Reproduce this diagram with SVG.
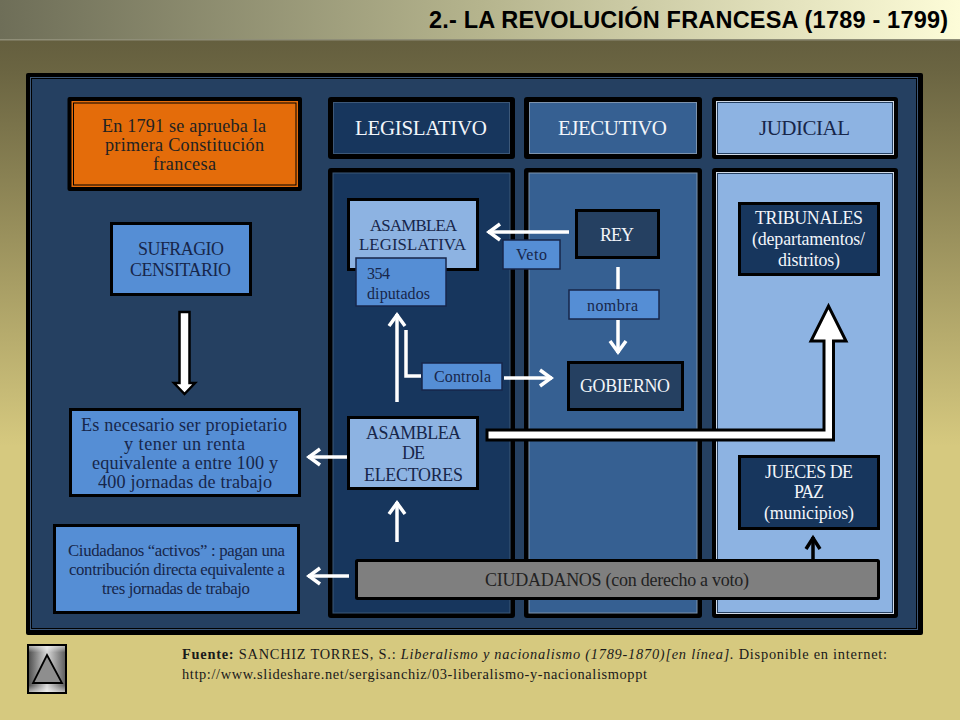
<svg xmlns="http://www.w3.org/2000/svg" width="960" height="720" viewBox="0 0 960 720">
<style>
text{font-family:"Liberation Serif","Times New Roman",serif;fill:#17264a}
.w{fill:#f2f5fa}
.t{fill:#222}
.f{fill:#1a1a1a;font-size:14.4px}
.s21{font-size:21px}.s185{font-size:18.2px}.s17{font-size:17.9px}.s168{font-size:16.8px}.s16{font-size:16px}.s18{font-size:18px}
.box{stroke:#000;stroke-width:3}
.thin{stroke:#17264a;stroke-width:1.5}
.ar{fill:none;stroke:#fff;stroke-width:3.5}
.ak{fill:none;stroke:#000;stroke-width:3.5}
</style>
<defs>
<linearGradient id="bg" x1="0" y1="0" x2="0" y2="1"><stop offset="0" stop-color="#5c573a"/><stop offset=".1" stop-color="#6b6542"/><stop offset=".62" stop-color="#d6c97f"/><stop offset="1" stop-color="#d6c97f"/></linearGradient>
<linearGradient id="bar" x1="0" y1="0" x2="1" y2="0"><stop offset="0" stop-color="#6e6e58"/><stop offset=".5" stop-color="#b5b48d"/><stop offset="1" stop-color="#fdfcd8"/></linearGradient>
<linearGradient id="btn" x1="0" y1="0" x2="1" y2="0"><stop offset="0" stop-color="#4a4a4a"/><stop offset=".5" stop-color="#d8d8d8"/><stop offset="1" stop-color="#5a5a5a"/></linearGradient>
<linearGradient id="btn2" x1="0" y1="0" x2="0" y2="1"><stop offset="0" stop-color="#fff" stop-opacity=".55"/><stop offset=".14" stop-color="#fff" stop-opacity="0"/><stop offset=".86" stop-color="#fff" stop-opacity="0"/><stop offset="1" stop-color="#fff" stop-opacity=".55"/></linearGradient>
<marker id="aw" markerUnits="userSpaceOnUse" markerWidth="30" markerHeight="30" refX="0" refY="0" orient="auto" overflow="visible"><path d="M-12,-8 L-1,0 L-12,8" fill="none" stroke="#fff" stroke-width="3.5"/></marker>
<marker id="ak" markerUnits="userSpaceOnUse" markerWidth="30" markerHeight="30" refX="0" refY="0" orient="auto" overflow="visible"><path d="M-12,-7 L-1,0 L-12,7" fill="none" stroke="#000" stroke-width="3.5"/></marker>
</defs>
<rect width="960" height="720" fill="url(#bg)"/>
<g id="title-bar"><rect width="960" height="40" fill="url(#bar)"/><rect y="39" width="960" height="1.500" fill="#8f8e78"/>
<text x="429" y="28" textLength="519" style="font-family:'Liberation Sans',Arial,sans-serif;font-weight:bold;font-size:23.500px;fill:#000">2.- LA REVOLUCIÓN FRANCESA (1789 - 1799)</text></g>

<g id="frame"><rect x="26" y="73" width="897" height="562" rx="2" fill="#000"/><rect x="30.500" y="77.500" width="887" height="552" fill="#254061" stroke="#3d5878" stroke-width="1"/><rect x="31.500" y="78.500" width="885" height="550" fill="#254061" stroke="#000" stroke-width="1"/></g>

<g id="col-legislativo"><rect x="328" y="168" width="187" height="450" rx="3" fill="#000"/><rect x="333" y="173" width="177" height="440" fill="#17365d" stroke="#3d5878"/></g>
<g id="col-ejecutivo"><rect x="524" y="168" width="178" height="450" rx="3" fill="#000"/><rect x="529" y="173" width="168" height="440" fill="#366092" stroke="#7d93ad"/></g>
<g id="col-judicial"><rect x="712" y="168" width="186" height="450" rx="3" fill="#000"/><rect x="716.500" y="172.500" width="177" height="441" fill="#254061" stroke="#cfd9e6"/><rect x="718" y="174" width="174" height="438" fill="#8db3e2"/></g>

<g id="connectors">
<path class="ar" d="M569,232H488" marker-end="url(#aw)"/>
<path class="ar" d="M618,267V290"/>
<path class="ar" d="M618,320V353" marker-end="url(#aw)"/>
<path class="ar" d="M504,378H552" marker-end="url(#aw)"/>
<path class="ar" d="M421,376H406V330"/>
<path class="ar" d="M397,402V314" marker-end="url(#aw)"/>
<path class="ar" d="M397,542V502" marker-end="url(#aw)"/>
<path class="ar" d="M349,457H308" marker-end="url(#aw)"/>
<path class="ar" d="M349,576H308" marker-end="url(#aw)"/>
<path class="ak" d="M813,560V537" marker-end="url(#ak)"/>
<path d="M179.500,312H189.500V383H195L184.500,394L174,383H179.500Z" fill="#fff" stroke="#000" stroke-width="2.500"/>
<path d="M487,430H824V341H811L828.500,306L846,341H833.500V440H487Z" fill="#fff" stroke="#000" stroke-width="3"/>
</g>

<g id="n-constitucion"><rect x="67.500" y="97" width="234.500" height="94" rx="2" fill="#000"/><rect x="71.500" y="101" width="226.500" height="86" fill="#e46c0a"/><rect x="73.500" y="103" width="222.500" height="82" fill="#e46c0a" stroke="#000" stroke-width="1"/>
<text class="t s185" x="102" y="132" textLength="164">En 1791 se aprueba la</text><text class="t s185" x="105" y="151" textLength="159">primera Constitución</text><text class="t s185" x="153" y="170" textLength="63">francesa</text></g>

<g id="n-legislativo"><rect x="328" y="97" width="187" height="62" rx="3" fill="#000"/><rect x="333.500" y="102.500" width="176" height="51" fill="#17365d" stroke="#3d5878"/>
<text class="w s21" x="355" y="135" textLength="132">LEGISLATIVO</text></g>
<g id="n-ejecutivo"><rect x="524" y="97" width="178" height="62" rx="3" fill="#000"/><rect x="529.500" y="102.500" width="167" height="51" fill="#366092" stroke="#7d93ad"/>
<text class="w s21" x="558" y="135" textLength="109">EJECUTIVO</text></g>
<g id="n-judicial"><rect x="712" y="97" width="186" height="62" rx="3" fill="#000"/><rect x="716.500" y="101.500" width="177" height="53" fill="#254061" stroke="#cfd9e6"/><rect x="718" y="103" width="174" height="50" fill="#8db3e2"/>
<text class="s21" x="759" y="135" textLength="91">JUDICIAL</text></g>

<g id="n-sufragio"><rect class="box" x="111.500" y="223.500" width="139" height="71" fill="#558ed5"/>
<text class="s17" x="138" y="255" textLength="86">SUFRAGIO</text><text class="s17" x="130" y="276" textLength="101">CENSITARIO</text></g>

<g id="n-requisito"><rect class="box" x="70.500" y="409.500" width="229" height="86" fill="#558ed5"/>
<text class="s185" x="81" y="431" textLength="206">Es necesario ser propietario</text><text class="s185" x="124" y="450" textLength="121">y tener un renta</text><text class="s185" x="92" y="469" textLength="186">equivalente a entre 100 y</text><text class="s185" x="98" y="488" textLength="174">400 jornadas de trabajo</text></g>

<g id="n-activos"><rect class="box" x="54.500" y="525.500" width="244" height="87" fill="#558ed5"/>
<text class="s168" x="68" y="556" textLength="217">Ciudadanos “activos” : pagan una</text><text class="s168" x="69" y="575" textLength="216">contribución directa equivalente a</text><text class="s168" x="102" y="594" textLength="148">tres jornadas de trabajo</text></g>

<g id="n-asamblea-legislativa"><rect class="box" x="348.500" y="199.500" width="129" height="70" fill="#8db3e2"/>
<text class="s168" x="370" y="231" textLength="87">ASAMBLEA</text><text class="s168" x="359" y="250" textLength="107">LEGISLATIVA</text></g>
<g id="n-diputados"><rect class="thin" x="356" y="258" width="90" height="48" fill="#558ed5"/>
<text class="s16" x="367" y="279" textLength="23">354</text><text class="s16" x="367" y="299" textLength="63">diputados</text></g>

<g id="n-veto"><rect class="thin" x="503" y="240" width="57" height="29" fill="#558ed5"/><text class="s16" x="516" y="260" textLength="31">Veto</text></g>
<g id="n-rey"><rect class="box" x="576.500" y="210.500" width="82" height="47" fill="#254061"/><text class="w s17" x="600" y="241" textLength="34">REY</text></g>
<g id="n-nombra"><rect class="thin" x="569" y="290" width="90" height="29" fill="#558ed5"/><text class="s16" x="587" y="311" textLength="51">nombra</text></g>
<g id="n-gobierno"><rect class="box" x="568.500" y="362.500" width="114" height="47" fill="#254061"/><text class="w s17" x="580" y="392" textLength="90">GOBIERNO</text></g>
<g id="n-controla"><rect class="thin" x="422" y="363" width="80" height="27" fill="#558ed5"/><text class="s16" x="434" y="382" textLength="57">Controla</text></g>

<g id="n-asamblea-electores"><rect class="box" x="348.500" y="417.500" width="129" height="71" fill="#8db3e2"/>
<text class="s17" x="366" y="439" textLength="95">ASAMBLEA</text><text class="s17" x="402" y="459" textLength="23">DE</text><text class="s17" x="364" y="481" textLength="99">ELECTORES</text></g>

<g id="n-tribunales"><rect class="box" x="739.500" y="203.500" width="139" height="71" fill="#17365d"/>
<text class="w s17" x="755" y="224" textLength="108">TRIBUNALES</text><text class="w s17" x="752" y="245" textLength="113">(departamentos/</text><text class="w s17" x="778" y="266" textLength="62">distritos)</text></g>
<g id="n-jueces"><rect class="box" x="739.500" y="456.500" width="139" height="72" fill="#17365d"/>
<text class="w s17" x="765" y="478" textLength="88">JUECES DE</text><text class="w s17" x="794" y="498" textLength="30">PAZ</text><text class="w s17" x="764" y="519" textLength="90">(municipios)</text></g>
<g id="n-ciudadanos"><rect class="box" x="356.500" y="560.500" width="522" height="38" rx="1" fill="#7f7f7f"/><text class="t s18" x="485" y="586" textLength="264">CIUDADANOS (con derecho a voto)</text></g>

<g id="nav-button"><rect x="28" y="645" width="38" height="48" fill="url(#btn)" stroke="#000" stroke-width="2"/><rect x="29" y="646" width="36" height="46" fill="url(#btn2)"/><path d="M47,655L62,683H33Z" fill="#8e8e8e" stroke="#000" stroke-width="1.800"/></g>

<g id="source"><text class="f" x="182" y="659" textLength="705"><tspan font-weight="bold">Fuente:</tspan> SANCHIZ TORRES, S.: <tspan font-style="italic">Liberalismo y nacionalismo (1789-1870)[en línea].</tspan> Disponible en internet:</text>
<text class="f" x="182" y="679" textLength="465">http://www.slideshare.net/sergisanchiz/03-liberalismo-y-nacionalismoppt</text></g>
</svg>
